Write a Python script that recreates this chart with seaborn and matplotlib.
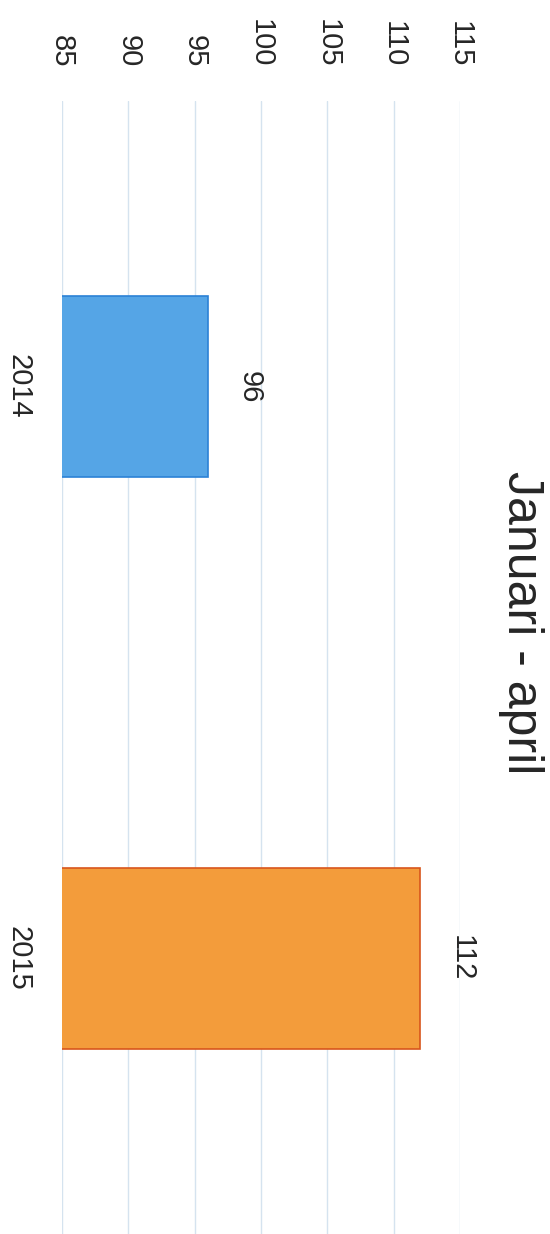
import matplotlib
matplotlib.use("Agg")
import matplotlib.pyplot as plt
import seaborn as sns
import pandas as pd

# Data
years = ["2014", "2015"]
values = [96, 112]
ticks = [85, 90, 95, 100, 105, 110, 115]
bar_colors = ["#55A5E6", "#F39C3B"]
edge_colors = ["#2B82D6", "#D8561C"]
title = "Januari - april"

df = pd.DataFrame({"year": years, "value": values})

sns.set_style("white")
plt.rcParams["font.family"] = ["Liberation Sans", "DejaVu Sans"]

fig = plt.figure(figsize=(5.5, 12.34), dpi=100)
ax = fig.add_axes([62 / 550, 0, 398 / 550, 1 - 101 / 1234])

sns.barplot(data=df, x="value", y="year", hue="year", palette=bar_colors,
            saturation=1, orient="h", width=0.317, legend=False, ax=ax, zorder=3)

for cont, ec in zip(ax.containers, edge_colors):
    for bar in cont:
        bar.set_edgecolor(ec)
        bar.set_linewidth(1.2)
    ax.bar_label(cont, padding=20, rotation=-90, fontsize=21, color="#262626")

ax.set_xlim(85, 115)
ax.set_ylim(1.4825, -0.5)
ax.set_xticks(ticks)
ax.xaxis.tick_top()
ax.grid(axis="x", color="#D5E3EF", linewidth=1, zorder=0)
ax.grid(axis="y", visible=False)
for s in ax.spines.values():
    s.set_visible(False)

ax.tick_params(axis="x", length=0, pad=24, labelsize=21, labelrotation=-90, colors="#262626")
ax.tick_params(axis="y", length=0, pad=21, labelsize=21, labelrotation=-90, colors="#262626")
for lbl in ax.get_yticklabels():
    lbl.set_va("center")
ax.set_xlabel("")
ax.set_ylabel("")

fig.text(521 / 550, 1 - 623 / 1234, title, rotation=-90, ha="center", va="center",
         fontsize=36, color="#262626")

fig.savefig("out.png", dpi=100)
